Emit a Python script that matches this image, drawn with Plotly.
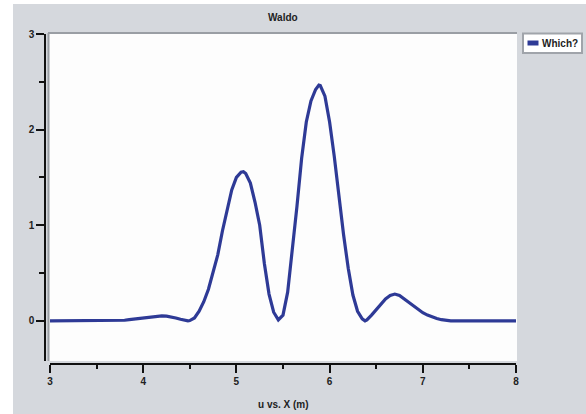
import plotly.graph_objects as go

# ---- data ----
x_vals = [3.0, 3.25, 3.5, 3.75, 3.8, 3.85, 3.9, 3.95, 4.0, 4.05, 4.1, 4.15, 4.2, 4.25, 4.3,
          4.35, 4.4, 4.45, 4.48, 4.5, 4.55, 4.6, 4.65, 4.7, 4.75, 4.8, 4.85, 4.9, 4.95,
          5.0, 5.05, 5.075, 5.1, 5.15, 5.2, 5.25, 5.3, 5.35, 5.4, 5.45, 5.5, 5.55, 5.6,
          5.65, 5.7, 5.75, 5.8, 5.85, 5.885, 5.9, 5.95, 6.0, 6.05, 6.1, 6.15, 6.2, 6.25,
          6.3, 6.35, 6.38, 6.4, 6.45, 6.5, 6.55, 6.6, 6.65, 6.7, 6.75, 6.8, 6.85, 6.9,
          6.95, 7.0, 7.05, 7.1, 7.15, 7.2, 7.25, 7.3, 7.5, 7.75, 8.0]
u_vals = [0.0, 0.0, 0.0, 0.0, 0.006, 0.012, 0.018, 0.025, 0.032, 0.038, 0.044, 0.049, 0.052,
          0.05, 0.042, 0.03, 0.016, 0.005, 0.0, 0.003, 0.03, 0.1, 0.2, 0.33, 0.5, 0.69,
          0.94, 1.17, 1.37, 1.5, 1.555, 1.56, 1.54, 1.44, 1.24, 1.0, 0.6, 0.28, 0.09, 0.01,
          0.06, 0.3, 0.72, 1.2, 1.7, 2.08, 2.3, 2.42, 2.465, 2.46, 2.35, 2.08, 1.72, 1.3,
          0.9, 0.55, 0.27, 0.1, 0.02, 0.0, 0.01, 0.06, 0.12, 0.18, 0.23, 0.265, 0.28,
          0.265, 0.23, 0.19, 0.15, 0.115, 0.085, 0.06, 0.04, 0.025, 0.012, 0.004, 0.0,
          0.0, 0.0, 0.0]
series_name = "Which?"
title_text = "Waldo"
xlabel_text = "u vs. X (m)"
x_range = [3, 8]
y_range = [-0.42, 3.0]

# ---- geometry ----
FW, FH = 586, 414
ML, MR, MT, MB = 30, 50, 20, 40
W = FW - ML - MR
H = FH - MT - MB

def px(xp):
    return (xp - ML) / W

def py(yp):
    return (FH - MB - yp) / H

LINE_BLUE = "#2e3a96"
BG_GRAY = "#d5d8dd"
FONT = "Liberation Sans, Arial, sans-serif"

fig = go.Figure()
fig.add_trace(go.Scatter(x=x_vals, y=u_vals, mode="lines", name=series_name,
                         line=dict(color=LINE_BLUE, width=3.2), showlegend=False))

shapes = [
    # outer gray panel
    dict(type="rect", xref="paper", yref="paper", x0=px(13), x1=px(586), y0=py(414), y1=py(4),
         fillcolor=BG_GRAY, line=dict(width=0), layer="below"),
    # plot area
    dict(type="rect", xref="paper", yref="paper", x0=px(49), x1=px(517), y0=py(361), y1=py(33),
         fillcolor="#fdfdfd", line=dict(width=0), layer="below"),
    # inset border top and left
    dict(type="line", xref="paper", yref="paper", x0=px(48), x1=px(517), y0=py(33), y1=py(33),
         line=dict(color="#9a9ea4", width=2), layer="below"),
    dict(type="line", xref="paper", yref="paper", x0=px(48.5), x1=px(48.5), y0=py(361), y1=py(33),
         line=dict(color="#9a9ea4", width=2), layer="below"),
    # legend box
    dict(type="rect", xref="paper", yref="paper", x0=px(523), x1=px(582), y0=py(53), y1=py(33.5),
         fillcolor="#ffffff", line=dict(color="#a0a4aa", width=2), layer="below"),
    dict(type="rect", xref="paper", yref="paper", x0=px(527.5), x1=px(538.5), y0=py(45.5), y1=py(40.5),
         fillcolor=LINE_BLUE, line=dict(width=0), layer="below"),
]

annotations = [
    dict(text=title_text, xref="paper", yref="paper", x=px(283), y=py(18), showarrow=False,
         font=dict(family=FONT, size=10, color="#222222", weight="bold"),
         xanchor="center", yanchor="middle"),
    dict(text=xlabel_text, xref="paper", yref="paper", x=px(283), y=py(404), showarrow=False,
         font=dict(family=FONT, size=10, color="#222222", weight="bold"),
         xanchor="center", yanchor="middle"),
    dict(text=series_name, xref="paper", yref="paper", x=px(539.5), y=py(43), showarrow=False,
         font=dict(family=FONT, size=10, color="#222222", weight="bold"),
         xanchor="left", yanchor="middle"),
]

tickfont = dict(family=FONT, size=10, color="#222222", weight="bold")

fig.update_layout(
    width=FW, height=FH,
    margin=dict(l=ML, r=MR, t=MT, b=MB),
    paper_bgcolor="#ffffff",
    plot_bgcolor="rgba(0,0,0,0)",
    showlegend=False,
    shapes=shapes,
    annotations=annotations,
    xaxis=dict(
        range=x_range, domain=[px(50), px(516)], anchor="free", position=py(364),
        showgrid=False, zeroline=False, showline=True, linecolor="#111111", linewidth=1.5,
        ticks="outside", ticklen=8, tickwidth=1.5, tickcolor="#111111", dtick=1, tick0=3,
        tickfont=tickfont,
        minor=dict(ticks="outside", ticklen=4, tickwidth=1.5, tickcolor="#111111", dtick=0.5,
                   showgrid=False),
    ),
    yaxis=dict(
        range=y_range, domain=[py(361), py(34)], anchor="free", position=px(45),
        showgrid=False, zeroline=False, showline=True, linecolor="#111111", linewidth=1.5,
        ticks="outside", ticklen=8, tickwidth=1.5, tickcolor="#111111", dtick=1, tick0=0,
        tickfont=tickfont,
        minor=dict(ticks="outside", ticklen=5, tickwidth=1.5, tickcolor="#111111", dtick=0.5,
                   showgrid=False),
    ),
)

fig.write_html("out.html",
               config={"displayModeBar": False},
               post_script="document.body.style.margin='0';document.body.style.overflow='hidden';")
